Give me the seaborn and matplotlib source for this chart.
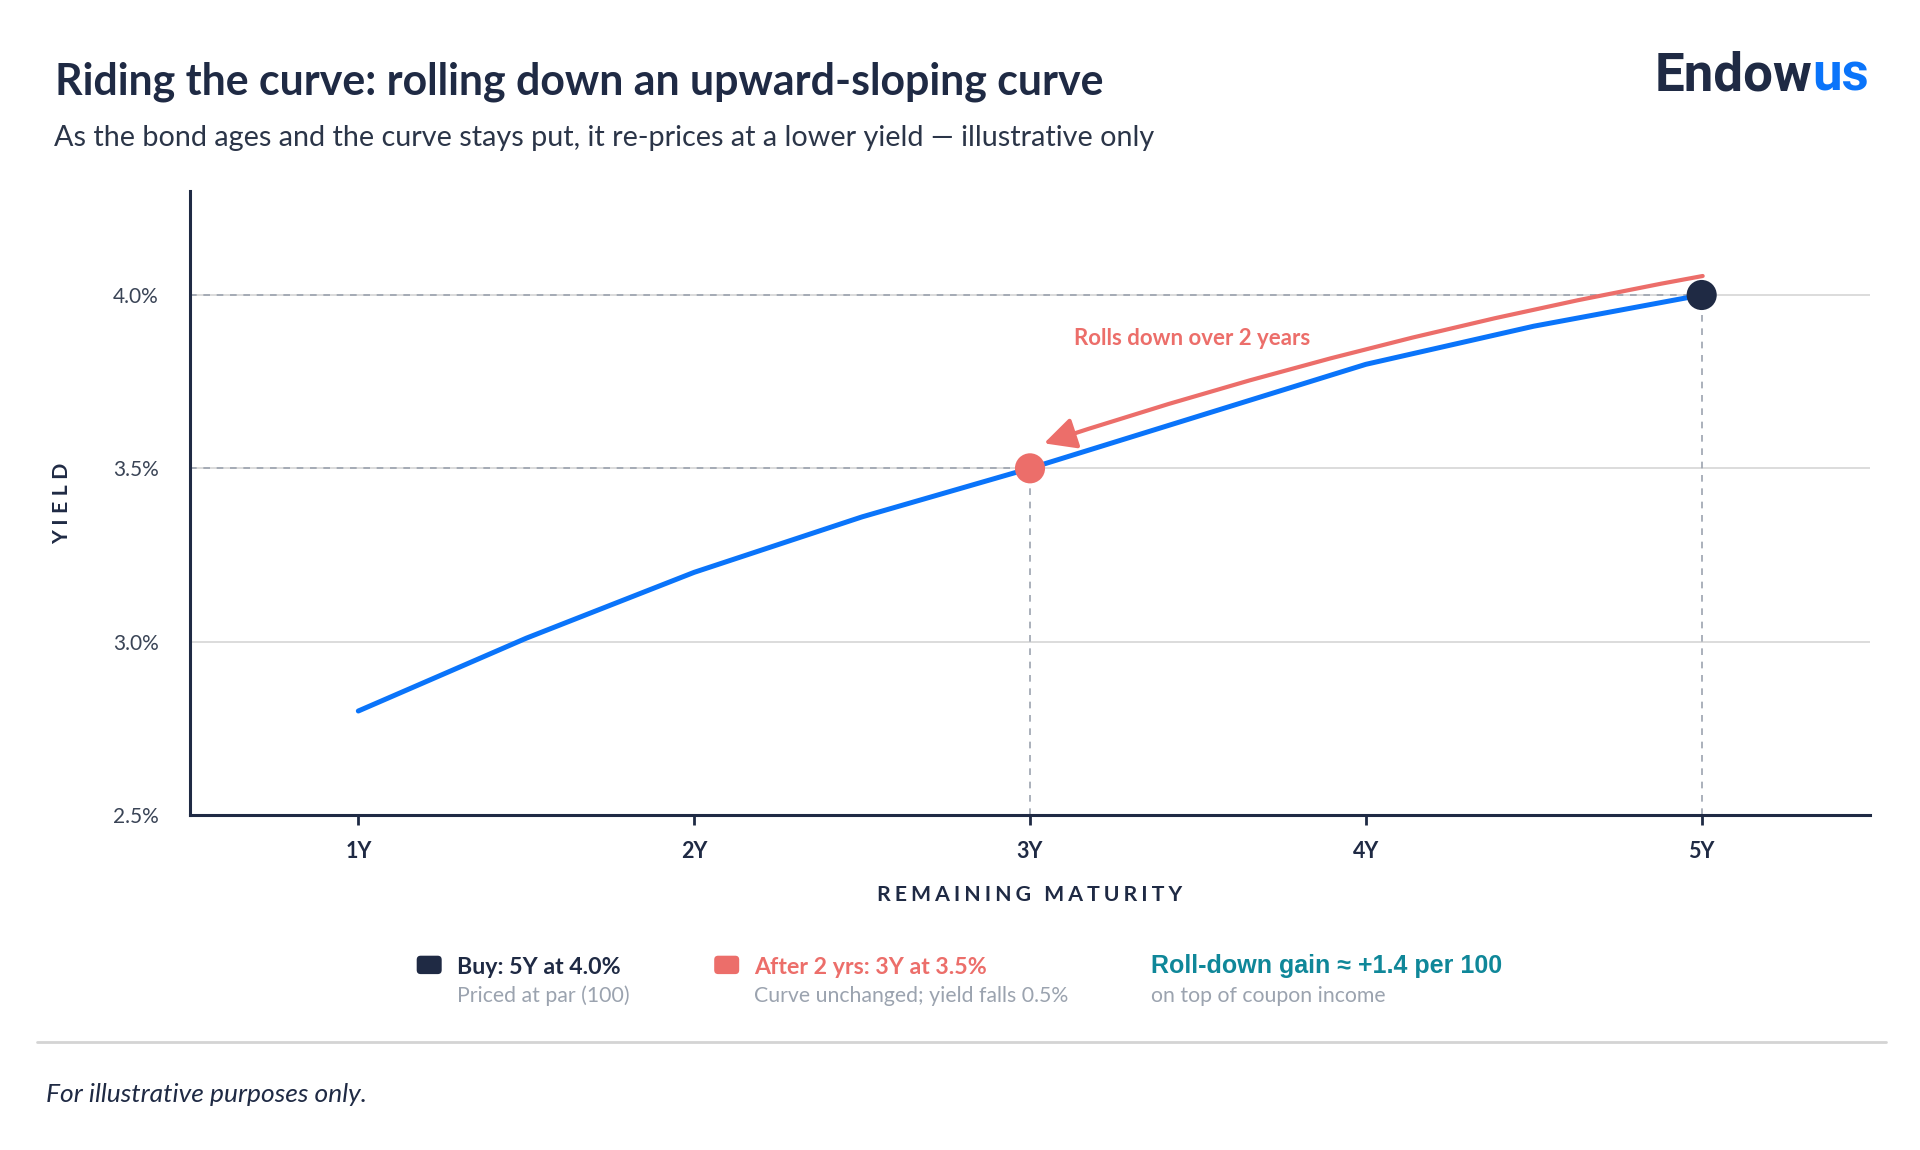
import matplotlib
matplotlib.use('Agg')
import matplotlib.pyplot as plt
import seaborn as sns
import pandas as pd
from matplotlib.patches import FancyBboxPatch
from matplotlib.lines import Line2D
from matplotlib.transforms import offset_copy, IdentityTransform

# ---- data ----
maturity = [1, 1.5, 2, 2.5, 3, 3.5, 4, 4.5, 5]
yields = [2.80, 3.01, 3.20, 3.36, 3.50, 3.65, 3.80, 3.91, 4.00]
buy_point = (5, 4.0)
after_point = (3, 3.5)
x_ticks = [1, 2, 3, 4, 5]
x_labels = ['1Y', '2Y', '3Y', '4Y', '5Y']
y_ticks = [2.5, 3.0, 3.5, 4.0]

legend_titles = ['Buy: 5Y at 4.0%', 'After 2 yrs: 3Y at 3.5%']
legend_notes = ['Priced at par (100)', 'Curve unchanged; yield falls 0.5%']
gain_title = 'Roll-down gain \u2248 +1.4 per 100'
gain_note = 'on top of coupon income'

title = 'Riding the curve: rolling down an upward-sloping curve'
subtitle = 'As the bond ages and the curve stays put, it re-prices at a lower yield \u2014 illustrative only'
footer = 'For illustrative purposes only.'

# colours
NAVY = '#1F2A44'
BLUE = '#0A74FA'
SALMON = '#EC6E6A'
TEAL = '#0F8799'
GREY_TXT = '#9BA3AF'
GRID = '#D6D6D6'
REF = '#9CA3AF'

sns.set_theme(style='white')
plt.rcParams['font.family'] = ['Lato', 'DejaVu Sans']

W, H = 1920, 1150
fig = plt.figure(figsize=(W / 100, H / 100), dpi=100)
fig.patch.set_facecolor('white')


def fx(x):
    return x / W


def fy(y):
    return 1 - y / H


def spaced(s, gap='\u2009\u200a'):
    # letter-spaced caps label
    return gap.join(s)


ax = fig.add_axes([fx(190.4), fy(815), (1869.6 - 190.4) / W, (815 - 191) / H])

df = pd.DataFrame({'maturity': maturity, 'yield': yields})
sns.lineplot(data=df, x='maturity', y='yield', color=BLUE, lw=3.6, ax=ax,
             zorder=3, solid_capstyle='round', solid_joinstyle='round')

ax.set_xlim(0.5, 5.5)
ax.set_ylim(2.5, 4.3)

# dashed guides to the two points
x0 = ax.get_xlim()[0]
y0 = ax.get_ylim()[0]
for px_, py_ in [buy_point, after_point]:
    ax.hlines(py_, x0, px_, color=REF, lw=1.2, ls=(0, (4, 4)), zorder=2)
    ax.vlines(px_, y0, py_, color=REF, lw=1.2, ls=(0, (4, 4)), zorder=2)

sns.scatterplot(x=[buy_point[0]], y=[buy_point[1]], s=470, color=NAVY,
                edgecolor='none', ax=ax, zorder=6)
sns.scatterplot(x=[after_point[0]], y=[after_point[1]], s=470, color=SALMON,
                edgecolor='none', ax=ax, zorder=6)

# roll-down arrow
ax.annotate('', xy=after_point,
            xycoords=offset_copy(ax.transData, fig=fig, x=14, y=25, units='dots'),
            xytext=buy_point,
            textcoords=offset_copy(ax.transData, fig=fig, x=1, y=19, units='dots'),
            arrowprops=dict(arrowstyle='-|>,head_length=0.8,head_width=0.4',
                            color=SALMON, lw=3, mutation_scale=24,
                            shrinkA=0, shrinkB=0,
                            connectionstyle='arc3,rad=0.035'),
            zorder=4)
ax.text(3.131, 3.856, 'Rolls down over 2 years', color=SALMON, fontsize=16,
        fontweight='bold', ha='left', va='baseline')

# axes styling
for side in ['top', 'right']:
    ax.spines[side].set_visible(False)
for side in ['left', 'bottom']:
    ax.spines[side].set_color(NAVY)
    ax.spines[side].set_linewidth(2.2)
ax.yaxis.grid(True, color=GRID, lw=1.2)
ax.xaxis.grid(False)
ax.set_axisbelow(True)

ax.tick_params(axis='x', length=7, width=2, color=NAVY, pad=11.5,
               labelsize=15.5, labelcolor=NAVY, bottom=True)
ax.tick_params(axis='y', length=0, pad=23, labelsize=15, labelcolor='#3A4456')

ax.set_xticks(x_ticks)
ax.set_xticklabels(x_labels, fontsize=15.5, fontweight='bold', color=NAVY)
ax.set_yticks(y_ticks)
ax.set_yticklabels([f'{v:.1f}%' for v in y_ticks], fontsize=15,
                   color='#3A4456')

ax.set_xlabel(spaced('REMAINING MATURITY'), fontsize=15.3, fontweight='bold',
              color=NAVY, labelpad=17)
ax.set_ylabel(spaced('YIELD', '\u2009\u200a\u200a'), fontsize=15.3,
              fontweight='bold', color=NAVY)
ax.yaxis.set_label_coords(-0.0763, 0.5)
ax.yaxis.label.set_va('center')

# header
fig.text(fx(55), fy(94.3), title, fontsize=30.9, fontweight='bold',
         color=NAVY, va='baseline')
fig.text(fx(54), fy(145.7), subtitle, fontsize=20.7, color='#2B3548',
         va='baseline')

renderer = fig.canvas.get_renderer()
logo_us = fig.text(fx(1869), fy(90.7), 'us', fontsize=38, fontweight='bold',
                   family=['Roboto', 'DejaVu Sans'], color=BLUE,
                   ha='right', va='baseline')
bb = logo_us.get_window_extent(renderer)
fig.text(bb.x0 / W, fy(90.7), 'Endow', fontsize=38, fontweight='bold',
         family=['Roboto', 'DejaVu Sans'], color=NAVY, ha='right', va='baseline')

# legend row
square_x = [429.2, 726.7]
text_x = [457.3, 754]
colors = [NAVY, SALMON]
for sx, tx, col, t, n in zip(square_x, text_x, colors, legend_titles, legend_notes):
    fig.add_artist(FancyBboxPatch((sx - 12.5, H - 964.9 - 9.2), 25, 18.4,
                                  boxstyle='round,pad=0,rounding_size=4',
                                  transform=IdentityTransform(),
                                  facecolor=col, edgecolor='none'))
    fig.text(fx(tx), fy(974.3), t, fontsize=16.7, fontweight='bold', color=col,
             va='baseline')
    fig.text(fx(tx), fy(1001.7), n, fontsize=15.3, color=GREY_TXT,
             va='baseline')

fig.text(fx(1151), fy(973.5), gain_title, fontsize=18, fontweight='bold',
         family=['Liberation Sans', 'DejaVu Sans'], color=TEAL, va='baseline')
fig.text(fx(1151), fy(1001.7), gain_note, fontsize=15.3, color=GREY_TXT,
         va='baseline')

fig.add_artist(Line2D([fx(36.7), fx(1885.7)], [fy(1042)] * 2, color='#D4D4D4',
                      lw=2, transform=fig.transFigure))
fig.text(fx(46.5), fy(1094.5), footer, fontsize=19, style='italic', color=NAVY,
         va='center')

fig.savefig('out.png', dpi=100, facecolor='white')
plt.close(fig)
